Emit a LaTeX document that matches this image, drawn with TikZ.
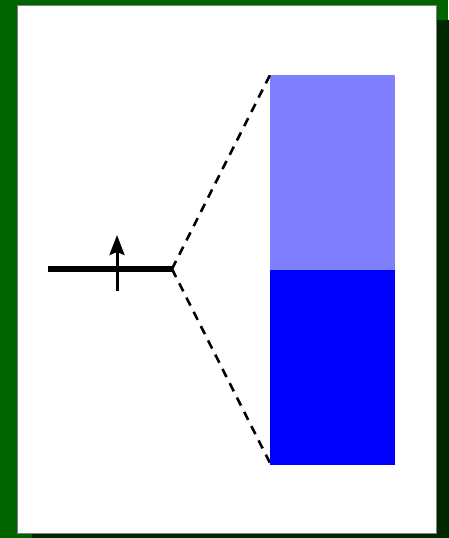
\documentclass[tikz,border=0pt]{standalone}
\usetikzlibrary{arrows.meta}
\definecolor{bggreen}{RGB}{0,100,0}
\definecolor{shadowgreen}{RGB}{0,40,0}
\definecolor{lightblue}{RGB}{128,128,255}
\tikzset{
  thickbar/.style={line width=5.5pt, line cap=butt},
  uparrow/.style={line width=3pt, -{Stealth[length=20pt,width=15pt,inset=3pt]}},
  dashedray/.style={line width=2.6pt, dash pattern=on 9pt off 7pt},
}
\begin{document}
\begin{tikzpicture}[x=1pt,y=-1pt]
\useasboundingbox (0,0) rectangle (448,538);
\fill[bggreen] (0,0) rectangle (448,538);
\fill[shadowgreen] (32,20) rectangle (452,548);
\draw[gray, fill=white, line width=0.8pt] (17,5) rectangle (436,533);
\fill[lightblue] (270,75) rectangle (395,270);
\fill[blue] (270,270) rectangle (395,465);
\coordinate (left) at (48,269);
\coordinate (apex) at (172,269);
\coordinate (top) at (270,75);
\coordinate (bot) at (270,463);
\coordinate (abase) at (117,291);
\coordinate (atip) at (117,235);
\draw[thickbar] (left) -- (apex);
\draw[uparrow] (abase) -- (atip);
\draw[dashedray] (apex) -- (top);
\draw[dashedray] (apex) -- (bot);
\end{tikzpicture}
\end{document}
